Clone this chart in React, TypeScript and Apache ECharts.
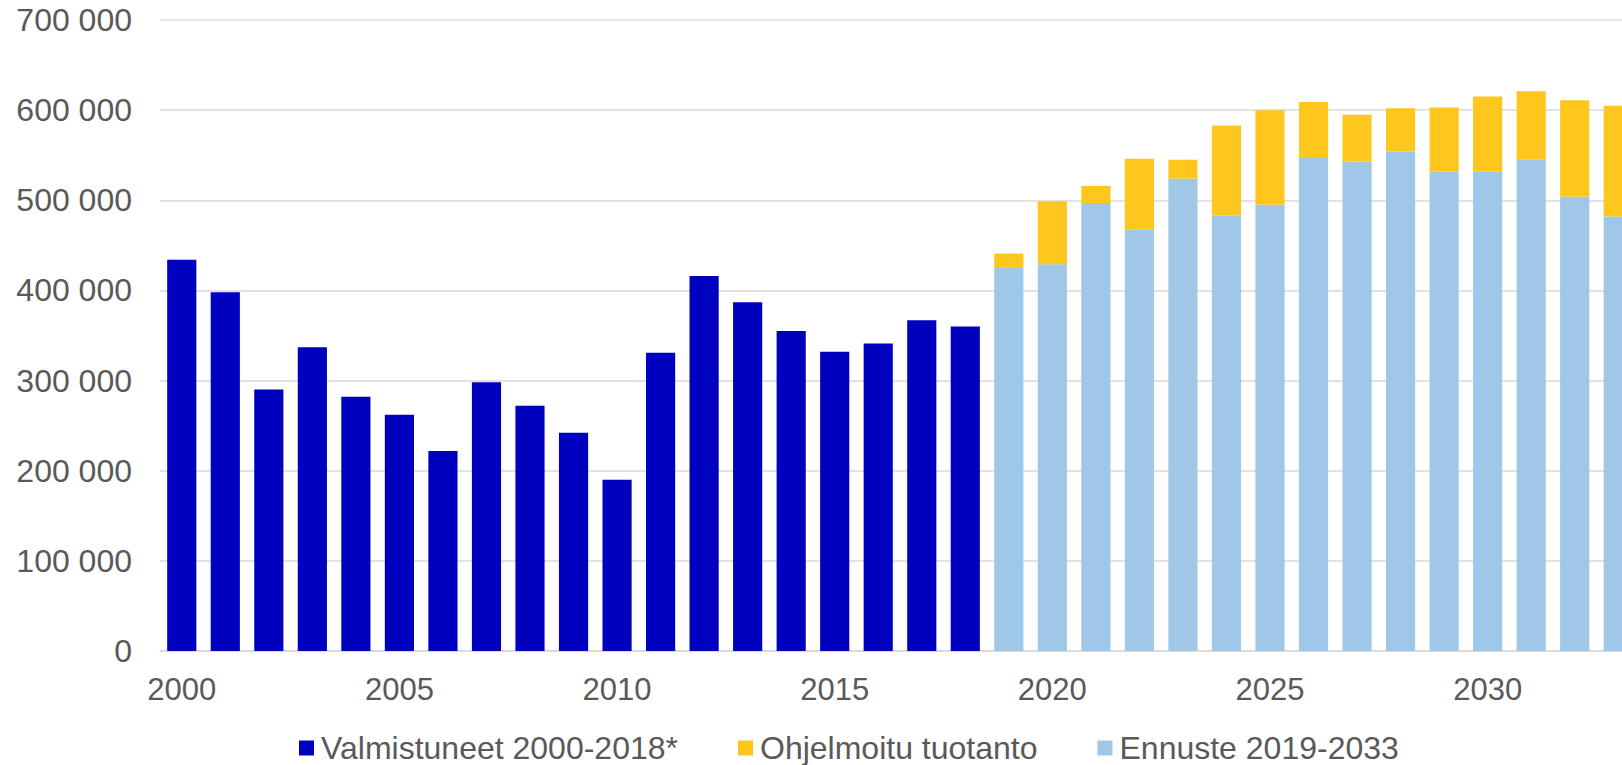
import React, { useEffect, useRef } from "react";
import * as echarts from "echarts";

const years: string[] = [];
for (let y = 2000; y <= 2033; y++) years.push(String(y));

const completed: (number | null)[] = [
  434000, 398000, 290000, 337000, 282000, 262000, 222000, 298000, 272000, 242000,
  190000, 331000, 416000, 387000, 355000, 332000, 341000, 367000, 360000,
  null, null, null, null, null, null, null, null, null, null, null, null, null, null, null,
];

const forecast: (number | null)[] = [
  null, null, null, null, null, null, null, null, null, null,
  null, null, null, null, null, null, null, null, null,
  425000, 429000, 497000, 468000, 524000, 483000, 495000, 547000, 543000, 554000,
  532000, 532000, 545000, 504000, 482000,
];

const programmed: (number | null)[] = [
  null, null, null, null, null, null, null, null, null, null,
  null, null, null, null, null, null, null, null, null,
  16000, 70000, 19000, 78000, 21000, 100000, 105000, 62000, 52000, 48000,
  71000, 83000, 76000, 107000, 123000,
];

const yTicks = { min: 0, max: 700000, interval: 100000 };

const seriesNames = ["Valmistuneet 2000-2018*", "Ohjelmoitu tuotanto", "Ennuste 2019-2033"];
const colors = { completed: "#0000BF", programmed: "#FFC61E", forecast: "#9FC8E8" };

const fmt = (v: number) => (v === 0 ? "0" : String(v).replace(/\B(?=(\d{3})+(?!\d))/g, " "));

export default function App() {
  const ref = useRef<HTMLDivElement>(null);
  useEffect(() => {
    if (!ref.current) return;
    const chart = echarts.init(ref.current, null, { renderer: "svg" });
    const font = "'Liberation Sans', Arial, sans-serif";
    chart.setOption({
      animation: false,
      textStyle: { fontFamily: font },
      grid: { left: 160, right: 0, top: 20, bottom: 114, containLabel: false },
      legend: {
        data: seriesNames,
        left: 294,
        top: 727,
        itemWidth: 15,
        itemHeight: 15,
        itemGap: 60,
        icon: "rect",
        textStyle: { fontSize: 32, color: "#595959", fontFamily: font, padding: [0, 0, 0, 2] },
      },
      xAxis: {
        type: "category",
        data: years,
        axisLine: { lineStyle: { color: "#D9D9D9", width: 1.5 } },
        axisTick: { show: false },
        axisLabel: { interval: 4, fontSize: 31, color: "#595959", margin: 23, fontFamily: font },
      },
      yAxis: {
        type: "value",
        min: yTicks.min,
        max: yTicks.max,
        interval: yTicks.interval,
        axisLine: { show: false },
        axisTick: { show: false },
        splitLine: { lineStyle: { color: "#D9D9D9", width: 1.5 } },
        axisLabel: { fontSize: 32, color: "#595959", margin: 28, formatter: fmt, fontFamily: font },
      },
      series: [
        {
          name: seriesNames[0],
          type: "bar",
          stack: "total",
          barWidth: "67%",
          data: completed,
          itemStyle: { color: colors.completed },
        },
        {
          name: seriesNames[2],
          type: "bar",
          stack: "total",
          barWidth: "67%",
          data: forecast,
          itemStyle: { color: colors.forecast },
        },
        {
          name: seriesNames[1],
          type: "bar",
          stack: "total",
          barWidth: "67%",
          data: programmed,
          itemStyle: { color: colors.programmed },
        },
      ],
    });
    return () => chart.dispose();
  }, []);
  return (
    <div
      ref={ref}
      style={{ position: "fixed", left: 0, top: 0, width: 1640, height: 765, background: "#fff" }}
    />
  );
}
